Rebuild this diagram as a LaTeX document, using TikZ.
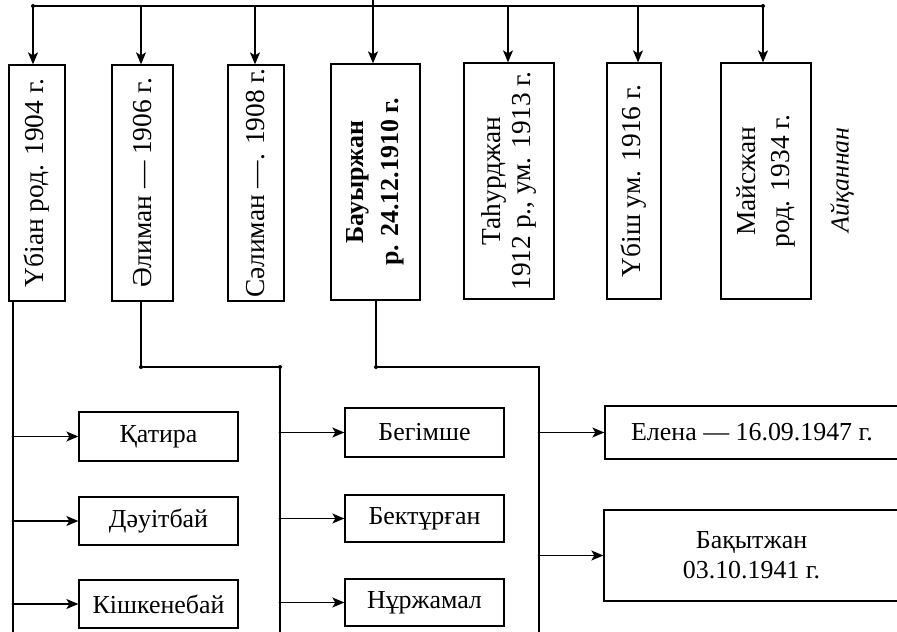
\documentclass[tikz,border=0pt]{standalone}
\usepackage{fontspec}
\setmainfont{Liberation Serif}
\usetikzlibrary{arrows.meta}

\begin{document}
\begin{tikzpicture}[x=1bp,y=-1bp,
  son/.style={draw, line width=1.3bp, rotate=90, minimum width=236bp, minimum height=#1,
    inner sep=0pt, align=center, font=\fontsize{27.5}{31}\selectfont},
  kid/.style={draw, line width=1.3bp, minimum width=159bp, minimum height=48bp,
    inner sep=0pt, align=center, font=\fontsize{26}{30}\selectfont},
  link/.style={line width=1.3bp},
  arr/.style={line width=1.3bp, -{Stealth[length=12bp,width=10bp,inset=3bp]}},
  dot/.style={circle, fill, inner sep=0pt, minimum size=4bp}]
\useasboundingbox (0,0) rectangle (897,632);

% sons
\node[son=56bp] (ubian) at (37,183) {Үбіан род. 1904 г.};
\node[son=61bp] (eliman) at (142.5,183) {Әлиман — 1906 г.};
\node[son=56bp] (seliman) at (256,183) {Сәлиман —. 1908 г.};
\node[son=89bp, font=\fontsize{26}{35}\selectfont\bfseries] (bauyr) at (375.5,182) {Бауыржан\\ р. 24.12.1910 г.};
\node[son=90bp] (tahur) at (509,181) {Таһурджан\\ 1912 р., ум. 1913 г.};
\node[son=54bp] (ubish) at (634,181) {Үбіш ум. 1916 г.};
\node[son=90bp, font=\fontsize{27.5}{35}\selectfont] (mais) at (766,181) {Майсжан\\ род. 1934 г.};
\node[rotate=90, font=\fontsize{26}{30}\selectfont\itshape] (aikan) at (842,180) {Айқаннан};

% bus
\coordinate (parent) at (373,0);
\coordinate (b1) at (33,6);
\coordinate (b2) at (141,6);
\coordinate (b3) at (255,6);
\coordinate (b4) at (373,6);
\coordinate (b5) at (508,6);
\coordinate (b6) at (638,6);
\coordinate (b7) at (763,6);
\node[dot] at (b1) {};
\node[dot] at (b7) {};
\path[draw,link] (b1) -- (b7);
\path[draw,link] (parent) -- (b4);
\path[draw,arr] (b1) -- (b1 |- ubian.east);
\path[draw,arr] (b2) -- (b2 |- eliman.east);
\path[draw,arr] (b3) -- (b3 |- seliman.east);
\path[draw,arr] (b4) -- (b4 |- bauyr.east);
\path[draw,arr] (b5) -- (b5 |- tahur.east);
\path[draw,arr] (b6) -- (b6 |- ubish.east);
\path[draw,arr] (b7) -- (b7 |- mais.east);

% children
\node[kid, minimum height=49bp] (katira) at (158.5,436.5) {Қатира};
\node[kid] (dauit) at (158.5,521) {Дәуітбай};
\node[kid] (kishk) at (158.5,604) {Кішкенебай};
\node[kid, minimum height=49bp] (begim) at (424.5,432.5) {Бегімше};
\node[kid, minimum height=47bp] (bektur) at (424.5,518.5) {Бектұрған};
\node[kid, minimum height=47bp] (nurzh) at (424.5,602.5) {Нұржамал};
\node[kid, minimum width=294bp, minimum height=53bp] (elena) at (752,432.5) {Елена — 16.09.1947 г.};
\node[kid, minimum width=295bp, minimum height=91bp] (bakyt) at (751.5,555.5) {Бақытжан\\ 03.10.1941 г.};

% Үбіан
\coordinate (u0) at (13,302);
\coordinate (u1) at (13,640);
\path[draw,link] (u0) -- (u1);
\foreach \k in {katira,dauit,kishk}{
  \node[dot, minimum size=3bp] at (u0 |- \k) {};
  \path[draw,arr] (u0 |- \k) -- (\k);
}

% Әлиман
\coordinate (e1) at (141,367);
\coordinate (e2) at (280,367);
\coordinate (e3) at (280,640);
\node[dot] at (e1) {};
\node[dot] at (e2) {};
\path[draw,link] (e1 |- eliman.west) -- (e1) -- (e2) -- (e3);
\foreach \k in {begim,bektur,nurzh}{
  \node[dot, minimum size=3bp] at (e2 |- \k) {};
  \path[draw,arr] (e2 |- \k) -- (\k);
}

% Бауыржан
\coordinate (c1) at (376,367);
\coordinate (c2) at (539,367);
\coordinate (c3) at (539,640);
\node[dot] at (c1) {};
\path[draw,link] (c1 |- bauyr.west) -- (c1) -- (c2) -- (c3);
\foreach \k in {elena,bakyt}{
  \node[dot, minimum size=3bp] at (c2 |- \k) {};
  \path[draw,arr] (c2 |- \k) -- (\k);
}
\end{tikzpicture}
\end{document}
